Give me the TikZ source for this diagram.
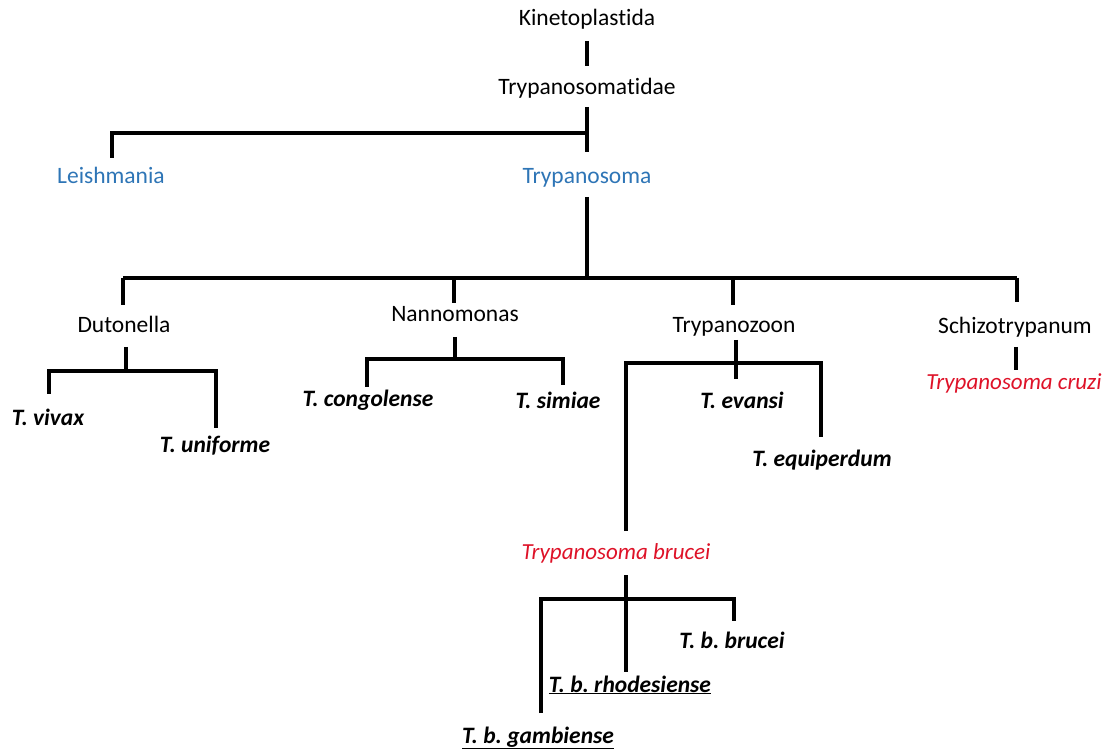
\documentclass[tikz,border=0pt]{standalone}
\usepackage{fontspec}
\setmainfont{Carlito}[Ligatures=NoCommon]
\frenchspacing
\definecolor{genblue}{RGB}{46,117,182}
\definecolor{spred}{RGB}{222,18,40}
\begin{document}
\begin{tikzpicture}[x=1pt,y=-1pt,line width=3.1pt,
  lbl/.style={anchor=base,inner sep=0pt,font=\fontsize{23.5}{28}\selectfont},
  gen/.style={lbl,text=genblue},
  sp/.style={lbl,font=\fontsize{23.5}{28}\selectfont\bfseries\itshape},
  redsp/.style={lbl,text=spred,font=\fontsize{23}{28}\selectfont\itshape}]
\useasboundingbox (0,0) rectangle (1112,751);
% labels
\node[lbl] (kin) at (587,26) {Kinetoplastida};
\node[lbl] (tfam) at (587,95) {Trypanosomatidae};
\node[gen] (leish) at (111,184) {Leishmania};
\node[gen] (tgen) at (587,184) {Trypanosoma};
\node[lbl] (dut) at (124,333) {Dutonella};
\node[lbl] (nan) at (455,322) {Nannomonas};
\node[lbl] (tzoon) at (734,333) {Trypanozoon};
\node[lbl] (schizo) at (1015,334) {Schizotrypanum};
\node[sp] (vivax) at (48,425) {T. vivax};
\node[sp] (unif) at (215,453) {T. uniforme};
\node[sp] (cong) at (368,407) {T. congolense};
\node[sp] (simiae) at (558,409) {T. simiae};
\node[sp] (evansi) at (742,409) {T. evansi};
\node[sp] (equip) at (822,467) {T. equiperdum};
\node[redsp] (cruzi) at (1014,390) {Trypanosoma cruzi};
\node[redsp] (brucei) at (616,559) {Trypanosoma brucei};
\node[sp] (tbb) at (732,648) {T. b. brucei};
\node[sp] (rhod) at (630,692) {\underline{T. b. rhodesiense}};
\node[sp] (gamb) at (538,743) {\underline{T. b. gambiense}};
% junction coordinates
\coordinate (k1) at (587,41); \coordinate (k2) at (587,66);
\coordinate (f1) at (587,107); \coordinate (f2) at (587,152);
\coordinate (fb) at (587,133); \coordinate (lb) at (112,133); \coordinate (l2) at (112,158);
\coordinate (t1) at (587,197); \coordinate (tb) at (587,278);
\coordinate (bl) at (123,278); \coordinate (br) at (1017,278);
\coordinate (d0) at (123,305); \coordinate (n0t) at (454,278); \coordinate (n0) at (454,303);
\coordinate (z0t) at (733,278); \coordinate (z0) at (733,305); \coordinate (s0) at (1017,302);
% Dutonella
\coordinate (d1) at (126,347); \coordinate (db) at (126,371);
\coordinate (dl) at (49,371); \coordinate (dl2) at (49,394);
\coordinate (dr) at (216,371); \coordinate (dr2) at (216,428);
% Nannomonas
\coordinate (n1) at (455,337); \coordinate (nb) at (455,359);
\coordinate (nl) at (367,359); \coordinate (nl2) at (367,387);
\coordinate (nr) at (563,359); \coordinate (nr2) at (563,385);
% Trypanozoon
\coordinate (z1) at (736,340); \coordinate (zb) at (736,363); \coordinate (z2) at (736,379);
\coordinate (zl) at (626,363); \coordinate (zl2) at (626,531);
\coordinate (zr) at (821,363); \coordinate (zr2) at (821,437);
% Schizotrypanum
\coordinate (s1) at (1016,347); \coordinate (s2) at (1016,370);
% brucei
\coordinate (b1) at (626,575); \coordinate (bb) at (626,599); \coordinate (b2) at (626,672);
\coordinate (bl1) at (541,599); \coordinate (bl2) at (541,713);
\coordinate (br1) at (734,599); \coordinate (br2) at (734,621);
% connectors
\draw (k1) -- (k2);
\draw (f1) -- (f2);
\draw (l2) -- (lb) -- (fb);
\draw (t1) -- (tb);
\draw (bl) -- (br);
\draw (bl) -- (d0); \draw (n0t) -- (n0); \draw (z0t) -- (z0); \draw (br) -- (s0);
\draw (d1) -- (db); \draw (dl2) -- (dl) -- (dr) -- (dr2);
\draw (n1) -- (nb); \draw (nl2) -- (nl) -- (nr) -- (nr2);
\draw (z1) -- (z2); \draw (zl2) -- (zl) -- (zr) -- (zr2);
\draw (s1) -- (s2);
\draw (b1) -- (b2); \draw (bl2) -- (bl1) -- (br1) -- (br2);
\end{tikzpicture}
\end{document}
